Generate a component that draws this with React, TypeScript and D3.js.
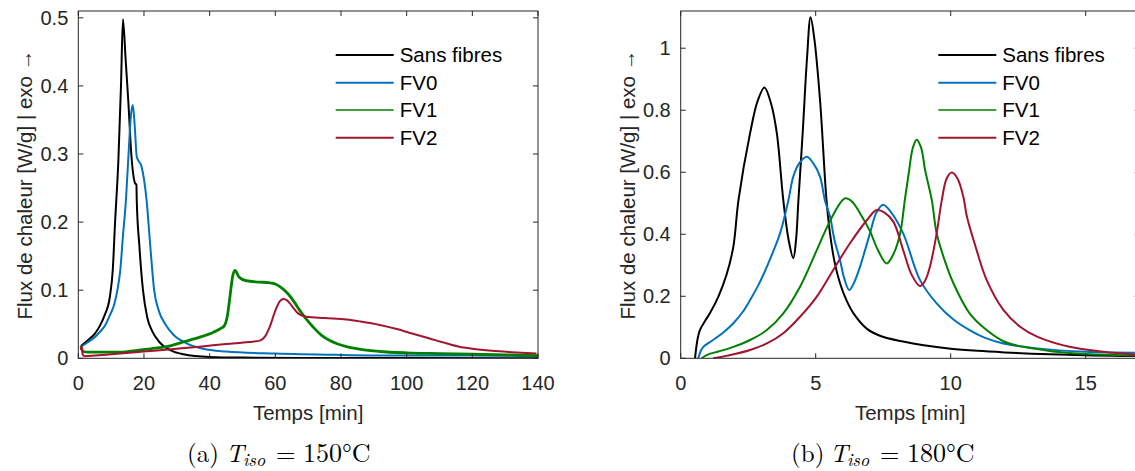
import React from 'react';
import * as d3 from 'd3';

type Pt = [number, number];

// ---------- Panel (a) : T_iso = 150 °C ----------
const sans150: Pt[] = [[0.8,0.018],[3,0.027],[5,0.036],[6.6,0.048],[8,0.063],[9.6,0.09],[10.5,0.13],[11.2,0.2],[12.2,0.29],[13,0.4],[13.6,0.498],[14.4,0.44],[15.2,0.38],[16.2,0.296],[17.3,0.257],[17.7,0.255],[17.8,0.232],[18.6,0.165],[19.7,0.1],[21,0.06],[22.5,0.04],[24.5,0.025],[28,0.012],[32,0.006],[40,0.002],[50,0.001],[70,0.0005],[100,0.0003],[140,0.0002]];
const fv0_150: Pt[] = [[0.8,0.017],[3,0.024],[5,0.031],[6.6,0.039],[8,0.047],[9.6,0.063],[11,0.08],[11.9,0.1],[12.8,0.13],[13.6,0.18],[14.5,0.232],[15.3,0.3],[16,0.355],[16.6,0.372],[17.2,0.34],[17.8,0.296],[19.3,0.281],[20.8,0.232],[22,0.16],[23.1,0.1],[24.5,0.07],[26.5,0.05],[28.9,0.035],[33,0.022],[38,0.014],[45,0.01],[60,0.007],[80,0.005],[100,0.004],[120,0.004],[140,0.003]];
const fv1_150: Pt[] = [[0.8,0.018],[1.5,0.01],[3,0.009],[8,0.009],[12,0.009],[16.7,0.011],[22,0.014],[26.9,0.017],[32,0.024],[37,0.031],[41,0.038],[43.1,0.043],[44.5,0.048],[45.5,0.065],[46.3,0.095],[47,0.12],[47.7,0.129],[49,0.119],[51,0.114],[55,0.112],[58,0.111],[60,0.109],[62,0.103],[64,0.094],[66,0.081],[67.5,0.07],[69.5,0.057],[71.5,0.046],[74,0.034],[76.6,0.026],[79,0.021],[81.7,0.017],[86,0.013],[91.8,0.01],[100,0.008],[110,0.007],[120,0.006],[130,0.005],[140,0.004]];
const fv2_150: Pt[] = [[0.8,0.012],[1,0.018],[1.3,0.006],[2,0.003],[5,0.004],[10,0.006],[20,0.01],[30,0.014],[37,0.017],[45,0.021],[52,0.024],[55.3,0.026],[57,0.033],[58.3,0.046],[60,0.07],[61.4,0.084],[62.5,0.087],[63.6,0.085],[65,0.077],[66.5,0.068],[67.5,0.064],[69.5,0.061],[75,0.059],[81.7,0.057],[86,0.054],[91.8,0.049],[97,0.043],[102,0.036],[107,0.029],[112,0.022],[116,0.017],[120,0.014],[126,0.011],[132,0.009],[139.5,0.007]];

// ---------- Panel (b) : T_iso = 180 °C ----------
const sans180: Pt[] = [[0.53,0],[0.62,0.06],[0.71,0.091],[0.9,0.12],[1.08,0.145],[1.4,0.2],[1.7,0.27],[1.95,0.36],[2.14,0.51],[2.57,0.726],[2.85,0.83],[3.1,0.873],[3.35,0.82],[3.56,0.726],[3.8,0.51],[4.0,0.38],[4.17,0.323],[4.27,0.38],[4.36,0.51],[4.52,0.73],[4.68,0.97],[4.81,1.1],[4.95,1.03],[5.16,0.833],[5.4,0.51],[5.53,0.403],[5.7,0.31],[5.9,0.242],[6.15,0.185],[6.4,0.145],[6.9,0.095],[7.4,0.072],[8.24,0.054],[9,0.042],[10,0.031],[11,0.024],[12,0.019],[13,0.015],[14,0.012],[15,0.01],[16,0.008],[17,0.007]];
const fv0_180: Pt[] = [[0.65,0],[0.75,0.025],[0.84,0.037],[1.2,0.059],[1.6,0.085],[1.95,0.113],[2.3,0.15],[2.57,0.188],[2.9,0.24],[3.19,0.295],[3.45,0.35],[3.68,0.403],[3.99,0.51],[4.17,0.586],[4.4,0.63],[4.67,0.65],[4.9,0.63],[5.16,0.586],[5.34,0.51],[5.53,0.457],[5.7,0.38],[5.9,0.317],[6.05,0.26],[6.24,0.22],[6.4,0.24],[6.64,0.295],[7.01,0.403],[7.25,0.47],[7.5,0.495],[7.8,0.47],[8.24,0.403],[8.86,0.253],[9.48,0.177],[10.1,0.125],[10.7,0.091],[11.3,0.065],[11.95,0.048],[13.2,0.032],[15,0.021],[17,0.018]];
const fv1_180: Pt[] = [[0.78,0],[1.0,0.012],[1.4,0.022],[1.95,0.037],[2.57,0.059],[3.19,0.091],[3.8,0.145],[4.42,0.231],[5.04,0.349],[5.35,0.41],[5.65,0.463],[5.9,0.5],[6.1,0.516],[6.35,0.505],[6.64,0.468],[7.01,0.41],[7.3,0.35],[7.63,0.306],[7.9,0.34],[8.13,0.403],[8.3,0.51],[8.45,0.6],[8.6,0.68],[8.74,0.705],[8.9,0.68],[9.05,0.608],[9.3,0.51],[9.48,0.403],[9.8,0.31],[10.1,0.242],[10.7,0.145],[11.33,0.091],[11.95,0.055],[12.5,0.04],[13.2,0.03],[14,0.02],[15,0.014],[16,0.011],[17,0.009]];
const fv2_180: Pt[] = [[1.2,0],[1.8,0.01],[2.57,0.027],[3.19,0.048],[3.8,0.081],[4.42,0.134],[5.04,0.199],[5.65,0.285],[6.27,0.371],[6.9,0.446],[7.26,0.478],[7.55,0.47],[7.88,0.44],[8.24,0.349],[8.55,0.27],[8.86,0.233],[9.05,0.25],[9.23,0.295],[9.48,0.403],[9.67,0.51],[9.85,0.58],[10.04,0.599],[10.25,0.58],[10.47,0.52],[10.6,0.457],[10.96,0.349],[11.33,0.253],[11.95,0.156],[12.57,0.102],[13.2,0.07],[14.4,0.037],[15.65,0.021],[17,0.011]];

const seriesNames = ['Sans fibres', 'FV0', 'FV1', 'FV2'];
const seriesColors = ['#000000', '#0072BD', '#008000', '#A2142F'];

const xTicksA = [0, 20, 40, 60, 80, 100, 120, 140];
const yTicksA = [0, 0.1, 0.2, 0.3, 0.4, 0.5];
const xTicksB = [0, 5, 10, 15];
const yTicksB = [0, 0.2, 0.4, 0.6, 0.8, 1];

const xLabel = 'Temps [min]';
const yLabel = 'Flux de chaleur [W/g] | exo →';

const FONT = '"Liberation Sans", Arial, Helvetica, sans-serif';
const SERIF = '"Latin Modern Roman", "CMU Serif", "Liberation Serif", "Times New Roman", serif';
const AX = '#262626';

interface PanelProps {
  id: string;
  left: number;
  right: number;
  top: number;
  bottom: number;
  xDomain: [number, number];
  yDomain: [number, number];
  xTicks: number[];
  yTicks: number[];
  data: Pt[][];
  widths: number[];
  curve: d3.CurveFactory;
  legendX: number;
  caption: string;
  captionTemp: string;
  capX: [number, number, number, number];
}

function fmt(v: number) {
  return v === 0 ? '0' : String(+v.toFixed(2));
}

function Panel(p: PanelProps) {
  const x = d3.scaleLinear().domain(p.xDomain).range([p.left, p.right]);
  const y = d3.scaleLinear().domain(p.yDomain).range([p.bottom, p.top]);
  const line = d3.line<Pt>().x(d => x(d[0])).y(d => y(d[1])).curve(p.curve);
  const tl = 5;
  const cx = (p.left + p.right) / 2;
  const cy = (p.top + p.bottom) / 2;
  const legendRows = [55, 82.7, 110, 137.7];
  const capY = 462;
  return (
    <g>
      <defs>
        <clipPath id={p.id}>
          <rect x={p.left} y={p.top} width={p.right - p.left} height={p.bottom - p.top} />
        </clipPath>
      </defs>
      <g clipPath={`url(#${p.id})`}>
        {p.data.map((d, i) => (
          <path key={i} d={line(d) || ''} fill="none" stroke={seriesColors[i]} strokeWidth={p.widths[i]} strokeLinejoin="round" />
        ))}
      </g>
      <rect x={p.left} y={p.top} width={p.right - p.left} height={p.bottom - p.top} fill="none" stroke={AX} strokeWidth={1} />
      {p.xTicks.map(t => (
        <g key={'x' + t}>
          <line x1={x(t)} x2={x(t)} y1={p.bottom} y2={p.bottom - tl} stroke={AX} />
          <line x1={x(t)} x2={x(t)} y1={p.top} y2={p.top + tl} stroke={AX} />
          <text x={x(t)} y={p.bottom + 32} textAnchor="middle" fontFamily={FONT} fontSize={20} fill={AX}>{fmt(t)}</text>
        </g>
      ))}
      {p.yTicks.map(t => (
        <g key={'y' + t}>
          <line x1={p.left} x2={p.left + tl} y1={y(t)} y2={y(t)} stroke={AX} />
          <line x1={p.right} x2={p.right - tl} y1={y(t)} y2={y(t)} stroke={AX} />
          <text x={p.left - 10} y={y(t) + 7} textAnchor="end" fontFamily={FONT} fontSize={20} fill={AX}>{fmt(t)}</text>
        </g>
      ))}
      <text x={cx} y={p.bottom + 62} textAnchor="middle" fontFamily={FONT} fontSize={20.5} fill={AX}>{xLabel}</text>
      <text transform={`translate(${p.left - 46},${cy}) rotate(-90)`} textAnchor="middle" fontFamily={FONT} fontSize={20.5} fill={AX}>{yLabel}</text>
      {seriesNames.map((n, i) => (
        <g key={n}>
          <line x1={p.legendX} x2={p.legendX + 58} y1={legendRows[i]} y2={legendRows[i]} stroke={seriesColors[i]} strokeWidth={i === 2 ? 1.6 : 2} />
          <text x={p.legendX + 64} y={legendRows[i] + 7} fontFamily={FONT} fontSize={20.5} fill="#000">{n}</text>
        </g>
      ))}
      <g fontFamily={SERIF} fill="#000">
        <text x={p.capX[0]} y={capY} fontSize={25}>{p.caption}</text>
        <text x={p.capX[1]} y={capY} fontSize={25} fontStyle="italic">T</text>
        <text x={p.capX[1] + 17} y={capY + 4} fontSize={18} fontStyle="italic">iso</text>
        <text x={p.capX[2]} y={capY} fontSize={25}>=</text>
        <text x={p.capX[3]} y={capY} fontSize={26}>{p.captionTemp}</text>
      </g>
    </g>
  );
}

export default function App() {
  return (
    <svg width={1135} height={471} style={{ position: 'absolute', left: 0, top: 0, background: '#fff' }}>
      <rect x={0} y={0} width={1135} height={471} fill="#fff" />
      <Panel
        id="clipA"
        left={78.3} right={538} top={11} bottom={358.3}
        xDomain={[0, 140]} yDomain={[0, 0.51]}
        xTicks={xTicksA} yTicks={yTicksA}
        data={[sans150, fv0_150, fv1_150, fv2_150]}
        widths={[2, 2, 2.8, 2]}
        curve={d3.curveMonotoneX}
        legendX={335.7}
        caption="(a)" captionTemp="150°C"
        capX={[187, 226, 276, 303]}
      />
      <Panel
        id="clipB"
        left={680.7} right={1139.7} top={11} bottom={358.3}
        xDomain={[0, 17]} yDomain={[0, 1.12]}
        xTicks={xTicksB} yTicks={yTicksB}
        data={[sans180, fv0_180, fv1_180, fv2_180]}
        widths={[2, 2, 2, 2]}
        curve={d3.curveCatmullRom.alpha(0.5)}
        legendX={938.3}
        caption="(b)" captionTemp="180°C"
        capX={[791, 830, 880, 907]}
      />
    </svg>
  );
}
